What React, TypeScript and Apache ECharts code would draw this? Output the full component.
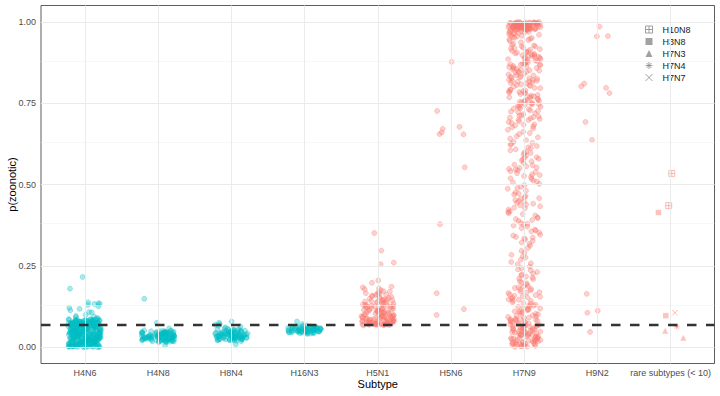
import React, { useEffect, useRef } from "react";
import * as echarts from "echarts";

const categories = ["H4N6", "H4N8", "H8N4", "H16N3", "H5N1", "H5N6", "H7N9", "H9N2", "rare subtypes (< 10)"];
const yTicks = [0, 0.25, 0.5, 0.75, 1];
const yMinorTicks = [0.125, 0.375, 0.625, 0.875];
const threshold = 0.065;

const h4n6 = [
  0.012, 0.045, 0.071, 0.003, 0.028, 0.059, 0.083, 0.017, 0.039, 0.066, 0.008, 0.051, 0.024, 0.077, 0.034, 0.062,
  0.005, 0.047, 0.019, 0.081, 0.031, 0.055, 0.014, 0.068, 0.042, 0.001, 0.073, 0.026, 0.057, 0.010, 0.036, 0.086,
  0.021, 0.049, 0.064, 0.007, 0.040, 0.075, 0.015, 0.053, 0.030, 0.069, 0.002, 0.044, 0.079, 0.023, 0.060, 0.011,
  0.037, 0.072, 0.018, 0.050, 0.084, 0.027, 0.063, 0.006, 0.041, 0.076, 0.016, 0.054, 0.032, 0.067, 0.004, 0.046,
  0.080, 0.022, 0.058, 0.013, 0.038, 0.070, 0.025, 0.052, 0.009, 0.043, 0.078, 0.020, 0.061, 0.033, 0.074, 0.000,
  0.048, 0.082, 0.029, 0.056, 0.015, 0.065, 0.035, 0.071, 0.008, 0.044, 0.087, 0.019, 0.059, 0.027, 0.068, 0.003,
  0.039, 0.075, 0.013, 0.051, 0.031, 0.062, 0.006, 0.047, 0.081, 0.022, 0.056, 0.011, 0.035, 0.073, 0.024, 0.053,
  0.009, 0.042, 0.077, 0.017, 0.064, 0.030, 0.069, 0.002, 0.045, 0.083, 0.026, 0.058, 0.014, 0.037, 0.072, 0.020,
  0.049, 0.005, 0.040, 0.079, 0.028, 0.061, 0.012, 0.034, 0.066, 0.018, 0.055, 0.085, 0.023, 0.046, 0.070, 0.001,
  0.038, 0.063, 0.016, 0.052, 0.076, 0.029, 0.004, 0.043, 0.067,
  0.041, 0.013, 0.066, 0.028, 0.079, 0.005, 0.054, 0.036, 0.071, 0.019, 0.047, 0.083, 0.010, 0.059, 0.032, 0.074,
  0.003, 0.050, 0.024, 0.068, 0.039, 0.015, 0.086, 0.056, 0.029, 0.063, 0.007, 0.044, 0.077, 0.021, 0.052, 0.034,
  0.070, 0.001, 0.047, 0.081, 0.017, 0.060, 0.026, 0.073, 0.011, 0.038, 0.065, 0.023, 0.057, 0.004, 0.042, 0.080,
  0.030, 0.067, 0.014, 0.053, 0.035, 0.075, 0.008, 0.048, 0.084, 0.020, 0.061, 0.027, 0.072, 0.002, 0.045, 0.078,
  0.016, 0.058, 0.033, 0.069, 0.012, 0.040, 0.064, 0.025, 0.055, 0.006, 0.043, 0.082, 0.031, 0.070, 0.018, 0.050,
  0.037, 0.076, 0.009, 0.046, 0.085, 0.022, 0.062, 0.028, 0.071, 0.000, 0.044, 0.079, 0.015, 0.057, 0.034, 0.068,
  0.010, 0.039, 0.066, 0.024, 0.054, 0.004, 0.041, 0.083, 0.030, 0.073, 0.019, 0.051, 0.036, 0.077, 0.007, 0.047,
  0.086, 0.021, 0.060, 0.027, 0.069, 0.003, 0.043, 0.080, 0.014, 0.056, 0.033, 0.065, 0.011, 0.038, 0.063, 0.025,
  0.052, 0.006, 0.042, 0.081, 0.029, 0.074, 0.017, 0.049, 0.035, 0.075, 0.008, 0.045, 0.084, 0.020, 0.059, 0.026,
  0.072, 0.001, 0.046, 0.078, 0.013, 0.058,
  0.216, 0.180, 0.138, 0.135, 0.134, 0.133, 0.130, 0.126, 0.121, 0.118, 0.113, 0.108, 0.107, 0.096, 0.092, 0.090,
  0.099, 0.094,
];

const h4n8 = [
  0.031, 0.018, 0.044, 0.025, 0.037, 0.049, 0.021, 0.034, 0.028, 0.041, 0.015, 0.046, 0.033, 0.023, 0.039, 0.027,
  0.051, 0.019, 0.036, 0.030, 0.043, 0.024, 0.047, 0.032, 0.017, 0.040, 0.026, 0.035, 0.022, 0.045, 0.029, 0.038,
  0.020, 0.048, 0.033, 0.025, 0.042, 0.016, 0.037, 0.030, 0.050, 0.027, 0.034, 0.021, 0.044, 0.031, 0.039, 0.024,
  0.046, 0.028, 0.035, 0.019, 0.041, 0.032, 0.026, 0.043, 0.036, 0.023, 0.038, 0.029,
  0.030, 0.042, 0.022, 0.036, 0.047, 0.027, 0.033, 0.019, 0.044, 0.038, 0.025, 0.050, 0.031, 0.040, 0.017, 0.045,
  0.034, 0.028, 0.041, 0.023, 0.048, 0.032, 0.037, 0.020, 0.043, 0.029, 0.039, 0.026, 0.046, 0.035, 0.021, 0.049,
  0.033, 0.024, 0.040, 0.018, 0.045, 0.030, 0.036, 0.052,
  0.149, 0.075, 0.006, 0.058,
];

const h8n4 = [
  0.034, 0.022, 0.047, 0.029, 0.040, 0.055, 0.025, 0.037, 0.031, 0.044, 0.019, 0.050, 0.036, 0.027, 0.042, 0.033,
  0.058, 0.023, 0.039, 0.030, 0.046, 0.026, 0.052, 0.035, 0.021, 0.043, 0.028, 0.038, 0.024, 0.048, 0.032, 0.041,
  0.020, 0.053, 0.036, 0.029, 0.045, 0.025, 0.039, 0.033, 0.061, 0.030, 0.037, 0.023, 0.049, 0.034,
  0.028, 0.041, 0.033, 0.050, 0.024, 0.037, 0.045, 0.030, 0.055, 0.021, 0.039, 0.034, 0.048, 0.026, 0.043, 0.031,
  0.052, 0.036, 0.023, 0.046, 0.040, 0.029, 0.057, 0.035, 0.042, 0.027, 0.049, 0.032, 0.038, 0.044, 0.025, 0.053,
  0.036, 0.030, 0.047, 0.022, 0.041, 0.034, 0.051, 0.039,
  0.066, 0.079, 0.075, 0.069, 0.055, 0.071, 0.064, 0.009,
];

const h16n3 = [
  0.052, 0.045, 0.060, 0.048, 0.056, 0.064, 0.043, 0.054, 0.050, 0.058, 0.041, 0.062, 0.053, 0.047, 0.057, 0.051,
  0.066, 0.044, 0.055, 0.049, 0.061, 0.046, 0.059, 0.053, 0.042, 0.057, 0.050, 0.055, 0.045, 0.063, 0.052, 0.048,
  0.058, 0.054, 0.047, 0.060, 0.051, 0.056, 0.049, 0.067,
  0.050, 0.056, 0.046, 0.061, 0.053, 0.048, 0.058, 0.044, 0.055, 0.051, 0.063, 0.047, 0.057, 0.052, 0.049, 0.060,
  0.054, 0.045, 0.059, 0.050, 0.062, 0.053, 0.047, 0.056, 0.051, 0.058, 0.043, 0.055, 0.049, 0.064, 0.052, 0.057,
  0.048, 0.054, 0.060,
  0.079, 0.071,
];

const h5n1 = [
  0.072, 0.095, 0.118, 0.081, 0.142, 0.068, 0.105, 0.163, 0.088, 0.127, 0.075, 0.111, 0.152, 0.092, 0.070, 0.134,
  0.099, 0.178, 0.083, 0.116, 0.069, 0.146, 0.102, 0.077, 0.124, 0.089, 0.171, 0.108, 0.073, 0.138, 0.094, 0.157,
  0.080, 0.120, 0.071, 0.113, 0.184, 0.086, 0.130, 0.097, 0.074, 0.149, 0.104, 0.166, 0.079, 0.122, 0.091, 0.067,
  0.140, 0.110, 0.082, 0.175, 0.098, 0.128, 0.076, 0.115, 0.155, 0.087, 0.072, 0.135, 0.101, 0.160, 0.084, 0.119,
  0.070, 0.144, 0.093, 0.181, 0.107, 0.078, 0.126, 0.090, 0.150, 0.073, 0.112, 0.169, 0.085, 0.132, 0.096, 0.069,
  0.117, 0.147, 0.081, 0.103, 0.076, 0.137, 0.088, 0.158, 0.071, 0.123, 0.099, 0.186, 0.083, 0.109, 0.074, 0.143,
  0.092, 0.068, 0.129, 0.079,
  0.085, 0.112, 0.077, 0.139, 0.094, 0.070, 0.121, 0.101, 0.165, 0.082, 0.131, 0.073, 0.108, 0.154, 0.090, 0.118,
  0.076, 0.145, 0.097, 0.069, 0.126, 0.087, 0.172, 0.104, 0.079, 0.136, 0.093, 0.115, 0.071, 0.161,
  0.351, 0.297, 0.260, 0.255, 0.205, 0.198,
];

const h5n6 = [0.877, 0.726, 0.677, 0.671, 0.660, 0.655, 0.654, 0.553, 0.378, 0.166, 0.117, 0.099];

const h7n9 = [
  // top band
  0.998, 0.985, 0.992, 0.979, 0.996, 0.988, 0.981, 0.994, 0.976, 0.990, 0.999, 0.983, 0.987, 0.995, 0.978, 0.991,
  0.984, 0.997, 0.980, 0.993, 0.986, 0.977, 0.989, 0.996, 0.982, 0.994, 0.979, 0.991, 0.998, 0.985, 0.988, 0.976,
  0.993, 0.981, 0.997, 0.984, 0.990, 0.978, 0.995, 0.987, 0.999, 0.982, 0.992, 0.980, 0.996, 0.986, 0.989, 0.977,
  0.994, 0.983,
  0.997, 0.984, 0.991, 0.978, 0.995, 0.987, 0.980, 0.993, 0.975, 0.989, 0.998, 0.982, 0.986, 0.994, 0.977, 0.990,
  0.983, 0.996, 0.979, 0.992, 0.985, 0.976, 0.988, 0.999, 0.981, 0.993, 0.978, 0.990, 0.996, 0.984,
  0.972, 0.958, 0.966, 0.944, 0.969, 0.951, 0.962, 0.937, 0.974, 0.955, 0.948, 0.967, 0.929, 0.960, 0.941, 0.971,
  0.953, 0.964, 0.933, 0.957, 0.946, 0.968, 0.925, 0.950, 0.963,
  // upper middle
  0.911, 0.846, 0.778, 0.703, 0.895, 0.822, 0.741, 0.868, 0.797, 0.681, 0.906, 0.833, 0.756, 0.879, 0.812, 0.719,
  0.889, 0.764, 0.852, 0.694, 0.918, 0.805, 0.737, 0.861, 0.786, 0.672, 0.899, 0.827, 0.748, 0.874, 0.792, 0.711,
  0.908, 0.840, 0.769, 0.883, 0.816, 0.689, 0.858, 0.731, 0.903, 0.801, 0.775, 0.866, 0.724, 0.891, 0.838, 0.759,
  0.676, 0.914, 0.819, 0.743, 0.872, 0.784, 0.707, 0.897, 0.829, 0.752, 0.855, 0.698, 0.921, 0.808, 0.771, 0.877,
  0.734, 0.893, 0.843, 0.762, 0.685, 0.869, 0.790, 0.716, 0.905, 0.825, 0.746, 0.850, 0.781, 0.728, 0.886, 0.814,
  0.924, 0.853, 0.789, 0.712, 0.887, 0.818, 0.745, 0.863, 0.796, 0.684, 0.901, 0.831, 0.757, 0.876, 0.803, 0.722,
  0.894, 0.768, 0.848, 0.699, 0.916, 0.811, 0.733, 0.857, 0.779, 0.668, 0.909, 0.835, 0.751, 0.871, 0.787, 0.705,
  0.927, 0.844, 0.773, 0.881, 0.821, 0.692, 0.864, 0.739, 0.898, 0.806, 0.766, 0.859, 0.726, 0.885, 0.836, 0.754,
  0.679, 0.919, 0.817, 0.747, 0.870, 0.783, 0.709, 0.892, 0.826, 0.760, 0.851, 0.701,
  // lower middle
  0.662, 0.641, 0.618, 0.597, 0.655, 0.628, 0.605, 0.584, 0.567, 0.552, 0.548, 0.556, 0.541, 0.535, 0.559, 0.529,
  0.512, 0.498, 0.475, 0.461, 0.447, 0.452, 0.438, 0.429, 0.441, 0.418, 0.405, 0.394, 0.382, 0.371, 0.359, 0.346,
  0.334, 0.327, 0.612, 0.589, 0.574, 0.523, 0.506, 0.487, 0.469, 0.433, 0.412, 0.388, 0.366, 0.352, 0.339, 0.648,
  0.625, 0.601, 0.579, 0.544, 0.517, 0.493, 0.456, 0.423, 0.399, 0.377, 0.343, 0.631,
  0.658, 0.636, 0.614, 0.592, 0.571, 0.551, 0.538, 0.526, 0.509, 0.489, 0.472, 0.458, 0.444, 0.427, 0.409, 0.391,
  0.374, 0.356, 0.337, 0.322, 0.645, 0.622, 0.598, 0.577, 0.561, 0.546, 0.531, 0.502, 0.481, 0.464, 0.436, 0.415,
  0.397, 0.379, 0.361, 0.331, 0.608, 0.583, 0.519, 0.449,
  // low
  0.318, 0.305, 0.291, 0.284, 0.276, 0.262, 0.255, 0.248, 0.239, 0.231, 0.224, 0.217, 0.209, 0.203, 0.198, 0.192,
  0.188, 0.184, 0.179, 0.175, 0.171, 0.166, 0.162, 0.158, 0.155, 0.152, 0.149, 0.146, 0.143, 0.214, 0.236, 0.269,
  0.182, 0.169, 0.157,
  0.312, 0.296, 0.279, 0.258, 0.243, 0.227, 0.211, 0.196, 0.186, 0.177, 0.168, 0.160, 0.153, 0.147, 0.221,
  0.138, 0.131, 0.124, 0.117, 0.111, 0.104, 0.098, 0.093, 0.088, 0.083, 0.079, 0.075, 0.071, 0.068, 0.064, 0.061,
  0.058, 0.055, 0.052, 0.049, 0.046, 0.043, 0.040, 0.037, 0.034, 0.031, 0.028, 0.025, 0.022, 0.019, 0.016, 0.013,
  0.010, 0.007, 0.004, 0.002, 0.134, 0.127, 0.120, 0.108, 0.101, 0.095, 0.090, 0.085, 0.077, 0.073, 0.066, 0.062,
  0.057, 0.053, 0.048, 0.044, 0.039, 0.035, 0.030, 0.026, 0.021, 0.017, 0.012, 0.008, 0.005, 0.001, 0.081, 0.069,
  0.059, 0.047, 0.036, 0.024, 0.014, 0.009, 0.114, 0.086, 0.051, 0.033, 0.018,
  0.142, 0.128, 0.115, 0.103, 0.091, 0.082, 0.074, 0.067, 0.060, 0.054, 0.045, 0.038, 0.029, 0.023, 0.015, 0.006,
  0.136, 0.119, 0.097, 0.087, 0.078, 0.065, 0.056, 0.041, 0.032, 0.020, 0.011, 0.003, 0.125, 0.106, 0.084, 0.070,
  0.050, 0.027, 0.013, 0.110, 0.063, 0.042, 0.019, 0.004,
];

const h9n2 = [0.985, 0.956, 0.955, 0.810, 0.802, 0.797, 0.781, 0.692, 0.637, 0.164, 0.112, 0.106, 0.047];

const rareH10N8 = [0.534, 0.435];
const rareH3N8 = [0.414, 0.097];
const rareH7N3 = [0.029, 0.051];
const rareH7N4 = [0.063];
const rareH7N7 = [0.106];

const TEAL = "#00BFC4";
const PINK = "#F8766D";
const FONT = "'Liberation Sans', Arial, Helvetica, sans-serif";
const JITTER = 0.225;

function jitter(group: number, i: number): number {
  let h = Math.imul(i + 1, 0x9e3779b1) ^ Math.imul(group + 11, 0x85ebca77);
  h ^= h >>> 15;
  h = Math.imul(h, 0x2c1b3c6d);
  h ^= h >>> 12;
  h = Math.imul(h, 0x297a2d39);
  h ^= h >>> 15;
  return ((h >>> 0) / 4294967296 - 0.5) * 2 * JITTER;
}

const SQ_PLUS = "path://M0,0L10,0L10,10L0,10Z M5,0L5,10 M0,5L10,5";
const ASTERISK = "path://M5,0L5,10M0,5L10,5M1.5,1.5L8.5,8.5M1.5,8.5L8.5,1.5";
const CROSS = "path://M0,0L10,10M0,10L10,0";

function rgba(hex: string, a: number) {
  const n = parseInt(hex.slice(1), 16);
  return `rgba(${(n >> 16) & 255},${(n >> 8) & 255},${n & 255},${a})`;
}

export default function App() {
  const ref = useRef<HTMLDivElement>(null);

  useEffect(() => {
    document.body.style.margin = "0";
    if (!ref.current) return;
    const chart = echarts.init(ref.current, undefined, { renderer: "svg" });

    const groups: { cat: number; values: number[]; color: string }[] = [
      { cat: 0, values: h4n6, color: TEAL },
      { cat: 1, values: h4n8, color: TEAL },
      { cat: 2, values: h8n4, color: TEAL },
      { cat: 3, values: h16n3, color: TEAL },
      { cat: 4, values: h5n1, color: PINK },
      { cat: 5, values: h5n6, color: PINK },
      { cat: 6, values: h7n9, color: PINK },
      { cat: 7, values: h9n2, color: PINK },
    ];

    const pointSeries = groups.map((g) => ({
      type: "scatter",
      name: categories[g.cat],
      z: 3,
      symbol: "circle",
      symbolSize: 5,
      itemStyle: { color: rgba(g.color, 0.42), borderColor: rgba(g.color, 0.55), borderWidth: 0.7 },
      data: g.values.map((v, i) => [g.cat + jitter(g.cat, i), v]),
    }));

    const rareDefs = [
      { name: "H10N8", values: rareH10N8, symbol: SQ_PLUS, stroke: true, size: 6 },
      { name: "H3N8", values: rareH3N8, symbol: "rect", stroke: false, size: 5.5 },
      { name: "H7N3", values: rareH7N3, symbol: "triangle", stroke: false, size: 6 },
      { name: "H7N4", values: rareH7N4, symbol: ASTERISK, stroke: true, size: 6 },
      { name: "H7N7", values: rareH7N7, symbol: CROSS, stroke: true, size: 5.5 },
    ];
    const rareSeries = rareDefs.map((r, k) => ({
      type: "scatter",
      name: r.name,
      z: 3,
      symbol: r.symbol,
      symbolSize: r.size,
      itemStyle: r.stroke
        ? { color: "rgba(0,0,0,0)", borderColor: rgba(PINK, 0.6), borderWidth: 1 }
        : { color: rgba(PINK, 0.55), borderWidth: 0 },
      data: r.values.map((v, i) => [8 + jitter(20 + k, i), v]),
    }));

    const gridLineSeries = {
      type: "scatter",
      name: "grid",
      z: 1,
      silent: true,
      data: [],
      markLine: {
        silent: true,
        symbol: ["none", "none"],
        label: { show: false },
        animation: false,
        lineStyle: { color: "#ebebeb", width: 1, type: "solid" },
        data: [
          ...yMinorTicks.map((v) => ({ yAxis: v, lineStyle: { color: "#f2f2f2", width: 0.6, type: "solid" } })),
          ...yTicks.map((v) => ({ yAxis: v })),
          ...categories.map((_, i) => ({ xAxis: i })),
        ],
      },
    };

    const thresholdSeries = {
      type: "scatter",
      name: "threshold",
      z: 5,
      silent: true,
      data: [],
      markLine: {
        silent: true,
        symbol: ["none", "none"],
        label: { show: false },
        animation: false,
        lineStyle: { color: "#333333", width: 2.4, type: [9.5, 9.5] },
        data: [{ yAxis: threshold }],
      },
    };

    const legendIcon = (r: (typeof rareDefs)[number]) =>
      r.stroke
        ? { color: "rgba(0,0,0,0)", borderColor: "#8a8a8a", borderWidth: 1 }
        : { color: "#8a8a8a", borderWidth: 0 };

    chart.setOption({
      animation: false,
      textStyle: { fontFamily: FONT },
      grid: {
        left: 41,
        right: 5.5,
        top: 5.5,
        bottom: 32.5,
        containLabel: false,
        outerBoundsMode: "none",
        show: true,
        borderColor: "#333333",
        borderWidth: 0.8,
        backgroundColor: "#ffffff",
      },
      legend: {
        orient: "vertical",
        left: 645,
        top: 25,
        itemWidth: 7,
        itemHeight: 7,
        itemGap: 3,
        selectedMode: false,
        padding: 0,
        textStyle: { fontSize: 9, lineHeight: 9, color: "#1a1a1a", fontFamily: FONT, padding: [0, 0, 0, 5] },
        data: rareDefs.map((r) => ({ name: r.name, icon: r.symbol, itemStyle: legendIcon(r) })),
      },
      xAxis: {
        type: "value",
        min: -0.6,
        max: 8.6,
        name: "Subtype",
        nameLocation: "middle",
        nameGap: 15,
        nameMoveOverlap: false,
        nameTextStyle: { fontSize: 11, color: "#000000", fontFamily: FONT },
        axisLine: { show: false },
        splitLine: { show: false },
        axisTick: {
          show: true,
          length: 3,
          customValues: categories.map((_, i) => i),
          lineStyle: { color: "#333333", width: 0.8 },
        },
        axisLabel: {
          customValues: categories.map((_, i) => i),
          formatter: (v: number) => categories[Math.round(v)] ?? "",
          fontSize: 9,
          color: "#4d4d4d",
          margin: 5,
          fontFamily: FONT,
        },
      },
      yAxis: {
        type: "value",
        min: -0.05,
        max: 1.05,
        name: "p(zoonotic)",
        nameLocation: "middle",
        nameRotate: 90,
        nameGap: 24,
        nameMoveOverlap: false,
        nameTextStyle: { fontSize: 11, color: "#000000", fontFamily: FONT },
        axisLine: { show: false },
        splitLine: { show: false },
        axisTick: {
          show: true,
          length: 3,
          customValues: yTicks,
          lineStyle: { color: "#333333", width: 0.8 },
        },
        axisLabel: {
          customValues: yTicks,
          formatter: (v: number) => v.toFixed(2),
          fontSize: 9,
          color: "#4d4d4d",
          margin: 5,
          fontFamily: FONT,
        },
      },
      series: [gridLineSeries, ...pointSeries, ...rareSeries, thresholdSeries],
    });

    return () => chart.dispose();
  }, []);

  return <div ref={ref} style={{ width: 720, height: 396 }} />;
}
